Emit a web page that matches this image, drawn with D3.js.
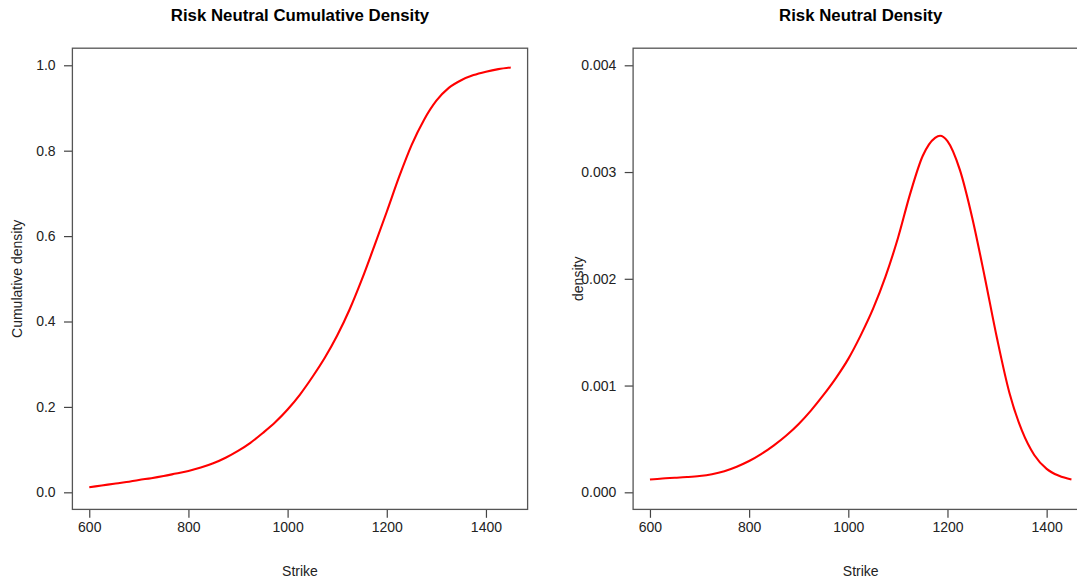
<!DOCTYPE html>
<html>
<head>
<meta charset="utf-8">
<script src="https://cdn.jsdelivr.net/npm/d3@7"></script>
<style>
  html, body { margin: 0; padding: 0; background: #fff; }
  svg { display: block; font-family: "Liberation Sans", Arial, sans-serif; }
  .tick text { font-size: 14px; fill: #222; }
  .tick line { stroke: #444; stroke-width: 1.2; }
</style>
</head>
<body>
<svg id="chart" width="1077" height="582"></svg>
<script>
// Strike grid shared by both panels
const strikes = [600, 625, 650, 675, 700, 725, 750, 775, 800, 825, 850, 875, 900, 925, 950, 975,
  1000, 1025, 1050, 1075, 1100, 1125, 1150, 1175, 1200, 1225, 1250, 1275, 1300, 1325, 1350,
  1375, 1400, 1425, 1450];

// Risk neutral cumulative density at each strike
const cumulative = [0.012, 0.016, 0.020, 0.024, 0.029, 0.033, 0.038, 0.044, 0.050, 0.058, 0.068,
  0.081, 0.097, 0.116, 0.139, 0.164, 0.194, 0.229, 0.270, 0.315, 0.367, 0.428, 0.499, 0.577,
  0.657, 0.739, 0.813, 0.872, 0.917, 0.947, 0.965, 0.977, 0.985, 0.991, 0.995];

// Risk neutral density: strikes and values (extra point near the mode)
const densityStrikes = [600, 625, 650, 675, 700, 725, 750, 775, 800, 825, 850, 875, 900, 925, 950,
  975, 1000, 1025, 1050, 1075, 1100, 1125, 1150, 1175, 1185, 1200, 1225, 1250, 1275, 1300, 1325,
  1350, 1375, 1400, 1425, 1450];
const density = [0.000120, 0.000130, 0.000136, 0.000143, 0.000153, 0.000170, 0.000198, 0.000240,
  0.000293, 0.000360, 0.000440, 0.000532, 0.000640, 0.000768, 0.000912, 0.00107, 0.00125,
  0.00147, 0.00172, 0.00202, 0.00238, 0.00280, 0.00315, 0.00332, 0.00334, 0.00329, 0.00302,
  0.00257, 0.00202, 0.00144, 0.00093, 0.00058, 0.00035, 0.00022, 0.000155, 0.000120];

// Axis ticks
const xTicks = [600, 800, 1000, 1200, 1400];
const cdfTicks = [0, 0.2, 0.4, 0.6, 0.8, 1.0];
const cdfTickLabels = ["0.0", "0.2", "0.4", "0.6", "0.8", "1.0"];
const pdfTicks = [0, 0.001, 0.002, 0.003, 0.004];
const pdfTickLabels = ["0.000", "0.001", "0.002", "0.003", "0.004"];

const svg = d3.select("#chart");
const LINE = 16.8;          // one margin line in px
const TICK = 8.4;           // tick length

// Axis range: data limits padded by 4% each side
function padded(lo, hi) {
  const p = (hi - lo) * 0.04;
  return [lo - p, hi + p];
}

function panel(opts) {
  const { left, right, top, bottom } = opts.box;
  const g = svg.append("g");

  const x = d3.scaleLinear().domain(padded(d3.min(opts.xs), d3.max(opts.xs))).range([left, right]);
  const y = d3.scaleLinear().domain(padded(opts.ylim[0], opts.ylim[1])).range([bottom, top]);

  // x axis
  const xa = g.append("g")
    .attr("transform", `translate(0,${bottom})`)
    .call(d3.axisBottom(x).tickValues(xTicks).tickSize(TICK).tickPadding(4.5).tickFormat(d3.format("d")));
  xa.select(".domain").remove();

  // y axis
  const ya = g.append("g")
    .attr("transform", `translate(${left},0)`)
    .call(d3.axisLeft(y).tickValues(opts.yTicks).tickSize(TICK).tickPadding(LINE - TICK)
      .tickFormat((d, i) => opts.yLabels[i]));
  ya.select(".domain").remove();

  // plot frame
  g.append("rect")
    .attr("x", left).attr("y", top)
    .attr("width", right - left).attr("height", bottom - top)
    .attr("fill", "none").attr("stroke", "#555").attr("stroke-width", 1.3);

  // curve
  const line = d3.line()
    .x((d, i) => x(opts.xs[i]))
    .y(d => y(d))
    .curve(d3.curveMonotoneX);
  g.append("path")
    .datum(opts.ys)
    .attr("d", line)
    .attr("fill", "none")
    .attr("stroke", "#ff0000")
    .attr("stroke-width", 2.1)
    .attr("stroke-linejoin", "round");

  // title
  g.append("text")
    .attr("x", (left + right) / 2).attr("y", 21)
    .attr("text-anchor", "middle")
    .style("font-size", "16.8px").style("font-weight", "bold").style("fill", "#000")
    .text(opts.title);

  // x label
  g.append("text")
    .attr("x", (left + right) / 2).attr("y", 576)
    .attr("text-anchor", "middle")
    .style("font-size", "14px").style("fill", "#222")
    .text("Strike");

  // y label
  const ly = (top + bottom) / 2;
  const lx = left - 3 * LINE;
  g.append("text")
    .attr("transform", `translate(${lx},${ly}) rotate(-90)`)
    .attr("text-anchor", "middle")
    .style("font-size", "14px").style("fill", "#222")
    .text(opts.ylab);
}

panel({
  box: { left: 72.4, right: 527.6, top: 48.2, bottom: 509.4 },
  xs: strikes, ys: cumulative, ylim: [0, 1],
  yTicks: cdfTicks, yLabels: cdfTickLabels,
  title: "Risk Neutral Cumulative Density",
  ylab: "Cumulative density"
});

panel({
  box: { left: 633.1, right: 1088.3, top: 48.2, bottom: 509.4 },
  xs: densityStrikes, ys: density, ylim: [0, 0.004],
  yTicks: pdfTicks, yLabels: pdfTickLabels,
  title: "Risk Neutral Density",
  ylab: "density"
});
</script>
</body>
</html>
